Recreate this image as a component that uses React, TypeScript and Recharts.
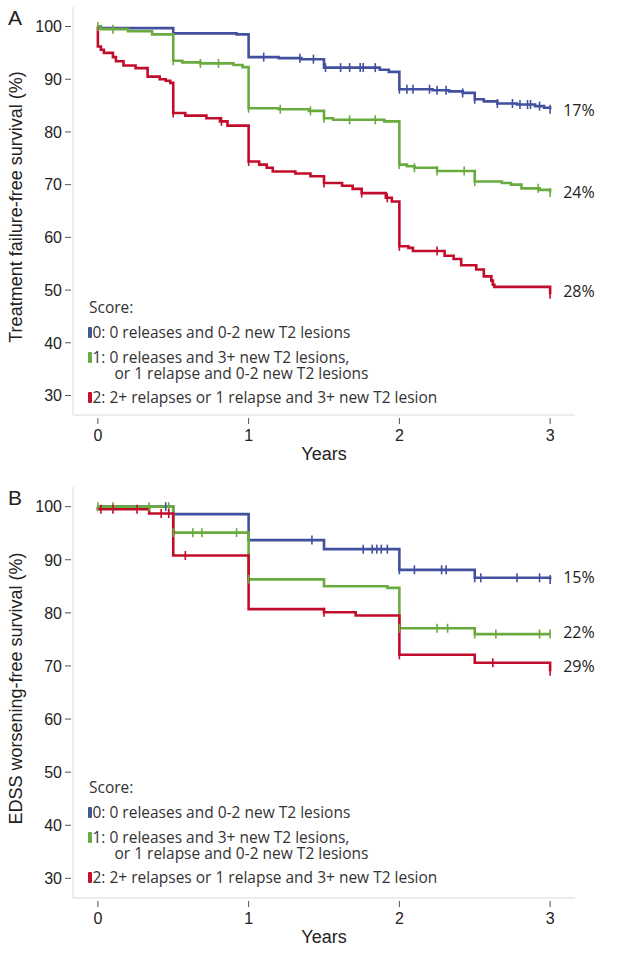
import { Line, LineChart, ReferenceDot, XAxis, YAxis } from "recharts";

// x ticks (years) and y ticks (%)
const years = [0, 1, 2, 3];
const yTicks = [30, 40, 50, 60, 70, 80, 90, 100];

const scoreNames = [
  ["0: 0 releases and 0-2 new T2 lesions"],
  ["1: 0 releases and 3+ new T2 lesions,", "or 1 relapse and 0-2 new T2 lesions"],
  ["2: 2+ relapses or 1 relapse and 3+ new T2 lesion"],
];
const colors = ["#41509f", "#6aab3f", "#c20c2b"];
const legendColors = ["#3e5a8c", "#6aa84c", "#c8102e"];

// Panel A: treatment failure-free survival, KM steps [years, %] and censor times
const stepsA0 = [[0, 100], [0.02, 99.7], [0.5, 98.7], [0.92, 98.5], [1.0, 94.2], [1.2, 94.0], [1.35, 93.8], [1.5, 92.2], [1.87, 91.8], [1.93, 91.4], [2.0, 88.1], [2.22, 87.9], [2.33, 87.7], [2.42, 87.4], [2.5, 86.2], [2.56, 85.8], [2.65, 85.4], [2.78, 85.2], [2.9, 84.9], [2.96, 84.6], [3.0, 84.3]];
const censorA0 = [1.1, 1.34, 1.43, 1.51, 1.61, 1.67, 1.74, 1.76, 1.84, 2.0, 2.05, 2.09, 2.2, 2.25, 2.31, 2.42, 2.5, 2.65, 2.75, 2.8, 2.85, 2.87, 2.93, 3.0];
const stepsA1 = [[0, 100], [0.02, 99.5], [0.2, 99.1], [0.36, 98.5], [0.5, 93.5], [0.56, 93.2], [0.68, 93.0], [0.9, 92.7], [0.96, 92.3], [1.0, 84.5], [1.2, 84.3], [1.4, 84.0], [1.5, 82.6], [1.56, 82.3], [1.9, 82.0], [2.0, 73.8], [2.05, 73.5], [2.1, 73.2], [2.25, 72.6], [2.5, 70.6], [2.68, 70.3], [2.74, 70.0], [2.81, 69.3], [2.93, 69.0], [3.0, 68.5]];
const censorA1 = [0, 0.1, 0.5, 0.68, 0.8, 1.0, 1.21, 1.41, 1.5, 1.67, 1.84, 2.0, 2.1, 2.25, 2.43, 2.5, 2.92, 3.0];
const stepsA2 = [[0, 100], [0, 96.2], [0.02, 95.6], [0.04, 95.0], [0.1, 94.2], [0.12, 93.4], [0.17, 92.6], [0.25, 92.1], [0.33, 90.5], [0.41, 90.0], [0.45, 89.7], [0.48, 89.3], [0.5, 83.6], [0.58, 83.1], [0.72, 82.6], [0.81, 82.0], [0.86, 81.2], [1.0, 74.4], [1.07, 73.8], [1.12, 73.2], [1.16, 72.5], [1.31, 72.1], [1.41, 71.6], [1.5, 70.3], [1.62, 69.8], [1.69, 69.2], [1.75, 68.4], [1.91, 67.5], [1.95, 66.8], [2.0, 58.3], [2.06, 58.0], [2.09, 57.4], [2.3, 56.5], [2.36, 55.9], [2.41, 54.7], [2.51, 53.9], [2.56, 52.6], [2.61, 51.8], [2.62, 51.0], [2.63, 50.6], [3.0, 49.2]];
const censorA2 = [0.5, 0.82, 1.0, 1.5, 1.75, 1.92, 2.0, 2.25, 3.0];
const endLabelsA = ["17%", "24%", "28%"];

// Panel B: EDSS worsening-free survival
const stepsB0 = [[0, 100], [0.5, 98.6], [1.0, 93.7], [1.5, 92.0], [2.0, 88.1], [2.5, 86.6], [3.0, 86.3]];
const censorB0 = [0.45, 1.42, 1.76, 1.82, 1.85, 1.88, 1.92, 2.0, 2.1, 2.28, 2.31, 2.5, 2.54, 2.78, 2.93, 3.0];
const stepsB1 = [[0, 100], [0.5, 95.1], [1.0, 86.3], [1.5, 85.0], [1.92, 84.7], [2.0, 77.1], [2.5, 76.0], [3.0, 76.0]];
const censorB1 = [0, 0.1, 0.34, 0.47, 0.5, 0.63, 0.69, 0.92, 1.0, 2.0, 2.25, 2.32, 2.5, 2.64, 2.93, 3.0];
const stepsB2 = [[0, 100], [0, 99.5], [0.34, 98.7], [0.5, 90.8], [1.0, 80.7], [1.5, 80.1], [1.71, 79.5], [2.0, 72.1], [2.5, 70.6], [3.0, 69.0]];
const censorB2 = [0.02, 0.1, 0.26, 0.42, 0.47, 0.58, 1.5, 2.0, 2.62, 3.0];
const endLabelsB = ["15%", "22%", "29%"];

const axisGray = "#dadada";
const tickFont = "'Liberation Sans', Arial, sans-serif";
const textFont = "'Open Sans', 'Noto Sans', sans-serif";

type Pt = { t: number; v: number; c: boolean };

// merge censor marks onto the step curve (value = last step at or before t)
function kmSeries(steps: number[][], censor: number[]): Pt[] {
  const pts: Pt[] = steps.map(([t, v]) => ({ t, v, c: false }));
  for (const c of censor) {
    let v = steps[0][1];
    for (const [t, s] of steps) if (t <= c) v = s;
    pts.push({ t: c, v, c: true });
  }
  return pts.map((p, i) => ({ p, i })).sort((a, b) => a.p.t - b.p.t || Number(a.p.c) - Number(b.p.c) || a.i - b.i).map((x) => x.p);
}

const censorDot = (color: string) => (props: any) => {
  const { cx, cy, payload, index } = props;
  if (!payload || !payload.c) return <g key={`n${index}`} />;
  return <line key={`c${index}`} x1={cx} x2={cx} y1={cy - 4.5} y2={cy + 4.5} stroke={color} strokeWidth={1.6} />;
};

function YTick({ x, y, payload }: any) {
  return (
    <g>
      <line x1={x - 8} x2={x - 2} y1={y} y2={y} stroke="#555" strokeWidth={1} />
      <text x={x - 11} y={y} dy="0.36em" textAnchor="end" fontSize={16} fontFamily={tickFont} fill="#222">{payload.value}</text>
    </g>
  );
}

function XTick({ x, y, payload }: any) {
  return (
    <g>
      <line x1={x} x2={x} y1={y + 3} y2={y + 9} stroke="#555" strokeWidth={1} />
      <text x={x} y={y + 26} textAnchor="middle" fontSize={16} fontFamily={tickFont} fill="#222">{payload.value}</text>
    </g>
  );
}

function Panel({ top, height, xAxisH, letter, yTitle, series, endLabels, labelDy }: { top: number; height: number; xAxisH: number; letter: string; yTitle: string; series: Pt[][]; endLabels: string[]; labelDy: number[] }) {
  return (
    <div style={{ position: "absolute", left: 0, top, width: 627, height }}>
      <LineChart width={627} height={height} margin={{ top: 7, right: 52, bottom: 0, left: 0 }}>
        <XAxis
          dataKey="t"
          type="number"
          domain={[-0.165, 3.165]}
          ticks={years}
          height={xAxisH}
          stroke={axisGray}
          tickLine={false}
          tickSize={0}
          tickMargin={0}
          tick={<XTick />}
          allowDataOverflow
          label={{
            value: "Years",
            content: ({ viewBox }: any) => (
              <text x={viewBox.x + viewBox.width / 2} y={viewBox.y + 45} textAnchor="middle" fontSize={18} fontFamily={tickFont} fill="#222">Years</text>
            ),
          }}
        />
        <YAxis
          type="number"
          domain={[26.3, 103.7]}
          ticks={yTicks}
          width={73}
          stroke={axisGray}
          tickLine={false}
          tickSize={0}
          tickMargin={0}
          tick={<YTick />}
          allowDataOverflow
          label={{
            value: yTitle,
            content: ({ viewBox }: any) => {
              const cy = viewBox.y + viewBox.height / 2 - 4;
              return (
                <text x={16} y={cy} transform={`rotate(-90 16 ${cy})`} textAnchor="middle" dominantBaseline="central" fontSize={18} fontFamily={tickFont} fill="#222">{yTitle}</text>
              );
            },
          }}
        />
        {series.map((d, i) => (
          <Line key={i} data={d} dataKey="v" type="stepAfter" stroke={colors[i]} strokeWidth={2.6} dot={censorDot(colors[i])} activeDot={false} isAnimationActive={false} />
        ))}
        {series.map((d, i) => (
          <ReferenceDot
            key={`l${i}`}
            x={3}
            y={d[d.length - 1].v}
            r={0}
            fill="none"
            stroke="none"
            ifOverflow="visible"
            label={{ value: endLabels[i], position: "right", offset: 13, dy: labelDy[i], fontSize: 16, fontFamily: textFont, fill: "#222" }}
          />
        ))}
      </LineChart>
      <div style={{ position: "absolute", left: 8, top: 7, fontSize: 21, fontFamily: tickFont, color: "#222", lineHeight: "21px" }}>{letter}</div>
      <div style={{ position: "absolute", left: 87.5, top: 298, fontFamily: textFont, fontSize: 15.5, color: "#333", whiteSpace: "nowrap" }}>
        <div style={{ lineHeight: "18px", paddingLeft: 1.5 }}>Score:</div>
        {scoreNames.map((lines, i) => (
          <div key={i} style={{ display: "flex", alignItems: "flex-start", marginTop: i === 1 ? 8 : 7 }}>
            <span style={{ display: "inline-block", flex: "none", width: 4, height: 11, marginTop: lines.length > 1 ? 2.5 : 3.5, background: legendColors[i], borderRadius: 1 }} />
            <div style={{ marginLeft: 1, lineHeight: lines.length > 1 ? "16px" : "18px", paddingLeft: 22, textIndent: -22 }}>
              {lines.map((l, j) => (
                <span key={j}>
                  {j > 0 && <br />}
                  {l}
                </span>
              ))}
            </div>
          </div>
        ))}
      </div>
    </div>
  );
}

export default function App() {
  const seriesA = [kmSeries(stepsA0, censorA0), kmSeries(stepsA1, censorA1), kmSeries(stepsA2, censorA2)];
  const seriesB = [kmSeries(stepsB0, censorB0), kmSeries(stepsB1, censorB1), kmSeries(stepsB2, censorB2)];
  return (
    <div style={{ position: "absolute", left: 0, top: 0, width: 627, height: 953, background: "#fff" }}>
      <Panel top={0} height={480} xAxisH={65} letter="A" yTitle="Treatment failure-free survival (%)" series={seriesA} endLabels={endLabelsA} labelDy={[1, 0, -3]} />
      <Panel top={480} height={473} xAxisH={55} letter="B" yTitle="EDSS worsening-free survival (%)" series={seriesB} endLabels={endLabelsB} labelDy={[-2, -2, -5]} />
    </div>
  );
}
